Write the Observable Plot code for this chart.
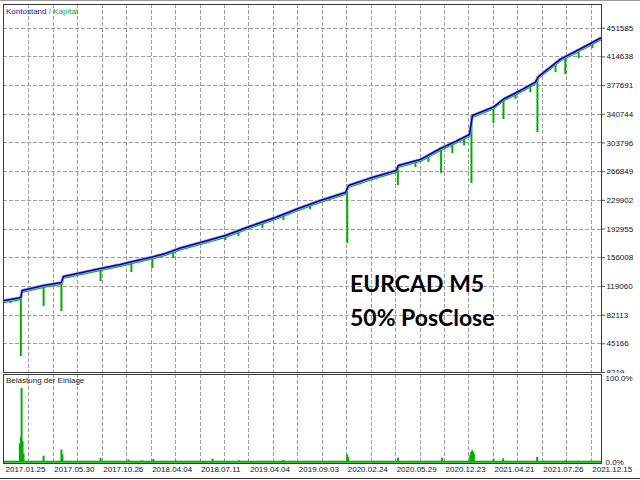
<!DOCTYPE html>
<html><head><meta charset="utf-8">
<script src="https://cdn.jsdelivr.net/npm/d3@7"></script>
<script src="https://cdn.jsdelivr.net/npm/@observablehq/plot@0.6"></script>
<style>
body{margin:0;background:#fff;}
#wrap{position:relative;width:640px;height:480px;overflow:hidden;background:#fff;font-family:"Liberation Sans Narrow","Liberation Sans",Arial,sans-serif;}
#main,#load{position:absolute;left:0;}
#main{top:0}
#load{top:373px}
.lbl{position:absolute;font-size:8px;white-space:nowrap;line-height:10px;}
.big{position:absolute;left:350px;font-family:Lato,"Open Sans",sans-serif;font-weight:bold;font-size:23px;line-height:23px;color:#000;white-space:nowrap;}
#chrome{position:absolute;left:0;top:0;width:640px;height:1px;background:#9a9a9a;}
#chrome2{position:absolute;left:0;top:478px;width:640px;height:1px;background:#333;}
</style></head><body>
<div id="wrap">
 <div id="main"></div>
 <div id="load"></div>
 <div id="chrome"></div>
 <div id="chrome2"></div>
 <div class="lbl" style="left:6px;top:7px"><span style="color:#1a1a9c">Kontostand</span> <span style="color:#777">/</span> <span style="color:#12b012">Kapital</span></div>
 <div class="lbl" style="left:6px;top:376px;color:#222">Belastung der Einlage</div>
 <div class="big" style="top:272px">EURCAD M5</div>
 <div class="big" style="top:306px">50% PosClose</div>
</div>
<script>
// x is the bar/trade position along the test, y values in account currency
const dateLabels = ["2017.01.25","2017.05.30","2017.10.26","2018.04.04","2018.07.11","2019.04.04","2019.09.03","2020.02.24","2020.05.29","2020.12.23","2021.04.21","2021.07.26","2021.12.15"];
const yTickValues = [8219,45166,82113,119060,156008,192955,229902,266849,303796,340744,377691,414638,451585];

const balanceIndex = [0,57,67,72,160,233,241,393,474,515,605,658,720,802,904,1002,1108,1202,1292,1395,1407,1497,1603,1611,1701,1783,1845,1902,1914,2000,2041,2110,2172,2184,2274,2327,2397,2438];
const balanceValue = [100900,104100,104800,113800,120200,124100,131800,142100,147300,150500,156900,161400,168500,175600,184600,196200,207800,219400,229700,240000,249000,258600,268300,274700,282400,296600,305600,314600,339100,350000,360300,371300,382200,389300,411800,420200,431800,438900];

const spikeIndex = [25,45,67,160,233,393,519,605,690,904,957,1055,1141,1250,1402,1456,1609,1681,1734,1786,1832,1880,1910,2000,2041,2090,2151,2180,2254,2294,2348,2405];
const spikeLow   = [97000,99000,28800,93200,86800,125400,137000,142100,155000,178200,183300,193600,203900,218000,174300,250000,249000,272100,278600,264400,290200,300000,251500,328800,333900,360000,368700,317200,394400,392000,412500,425300];
const spikeTop   = [102500,103600,104800,120200,124100,142100,150700,156900,165000,184600,190000,202000,211900,225000,241000,254200,274700,280500,287000,296600,303800,311000,339100,350000,360300,368000,378900,389300,406800,414800,423800,433800];

const loadIndex = [63,67,70,74,78,160,233,237,393,507,564,609,700,851,960,1141,1250,1402,1406,1610,1790,1905,1909,1913,1917,1920,2000,2040,2179,2295,2348,2397];
const loadPct   = [22,30,88,25,10,7.5,15,9,5,3,2,3.5,2,4,2,2.5,1.5,9,6,5,5,8,12,14,12,10,3.5,4.5,6,2,1.5,1.5];

const gridTicks = d3.range(100, 2401, 100);
const labelTicks = d3.range(0, 2401, 200);
const BLUE = "#0000b0", GREEN = "#00b000", GRID = "#9c9c9c";
const font = '"Liberation Sans Narrow","Liberation Sans",Arial,sans-serif';

// dashed grid built as short rule segments (dash ≈ 4px, gap ≈ 2px)
const X0 = -4, X1 = 2442, Y0 = 8219, Y1 = 482100, L0 = -1.2, L1 = 104.8;
const hDash = yTickValues.slice(1).flatMap(y => d3.range(X0, X1, 24.54).map(x => ({y, x1: x, x2: Math.min(x + 16.36, X1)})));
const vDashMain = gridTicks.flatMap(x => d3.range(Y1, Y0, -7726).map(y => ({x, y1: y, y2: Math.max(y - 5151, Y0)})));
const vDashLoad = gridTicks.flatMap(x => d3.range(L1, L0, -7.14).map(y => ({x, y1: y, y2: Math.max(y - 4.76, L0)})));
const gridStyle = {stroke: GRID, strokeWidth: 1, shapeRendering: "crispEdges"};

const main = Plot.plot({
  width: 640, height: 373,
  marginLeft: 3, marginRight: 39, marginTop: 4, marginBottom: 1,
  style: {fontFamily: font, fontSize: "8px", background: "transparent", overflow: "hidden"},
  x: {domain: [X0, X1], axis: null, label: null},
  y: {domain: [Y0, Y1], axis: null, label: null},
  marks: [
    Plot.ruleY(hDash, {y: "y", x1: "x1", x2: "x2", ...gridStyle}),
    Plot.ruleX(vDashMain, {x: "x", y1: "y1", y2: "y2", ...gridStyle}),
    Plot.ruleX(spikeIndex, {x: spikeIndex, y1: spikeLow, y2: spikeTop, stroke: GREEN, strokeWidth: 2}),
    Plot.line(balanceIndex, {x: balanceIndex, y: balanceValue, stroke: GREEN, strokeWidth: 2, dy: 1.5}),
    Plot.line(balanceIndex, {x: balanceIndex, y: balanceValue, stroke: "#a8a8ea", strokeWidth: 3}),
    Plot.line(balanceIndex, {x: balanceIndex, y: balanceValue, stroke: BLUE, strokeWidth: 1.6}),
    Plot.frame({stroke: "#3a3a3a"}),
    Plot.axisY(yTickValues, {anchor: "right", label: null, tickSize: 3, tickPadding: 2, tickFormat: d => String(d), stroke: "#555", fill: "#111"})
  ]
});
document.getElementById("main").appendChild(main);

const load = Plot.plot({
  width: 640, height: 107,
  marginLeft: 3, marginRight: 39, marginTop: 1, marginBottom: 17,
  style: {fontFamily: font, fontSize: "8px", background: "#fff", overflow: "visible"},
  x: {domain: [X0, X1], axis: null, label: null},
  y: {domain: [L0, L1], axis: null, label: null},
  marks: [
    Plot.ruleX(vDashLoad, {x: "x", y1: "y1", y2: "y2", ...gridStyle}),
    Plot.ruleY([0.8], {stroke: GREEN, strokeWidth: 2}),
    Plot.ruleX(loadIndex, {x: loadIndex, y1: 0, y2: loadPct, stroke: GREEN, strokeWidth: 2}),
    Plot.frame({stroke: "#3a3a3a"}),
    Plot.axisY([0, 100], {anchor: "right", label: null, tickSize: 0, tickPadding: 4, tickFormat: d => d.toFixed(1) + "%", fill: "#111"}),
    Plot.axisX(labelTicks, {anchor: "bottom", label: null, tickSize: 0, tickPadding: 3, textAnchor: "start", dx: 1, tickFormat: d => dateLabels[d / 200], fill: "#111"})
  ]
});
document.getElementById("load").appendChild(load);
</script>
</body></html>
